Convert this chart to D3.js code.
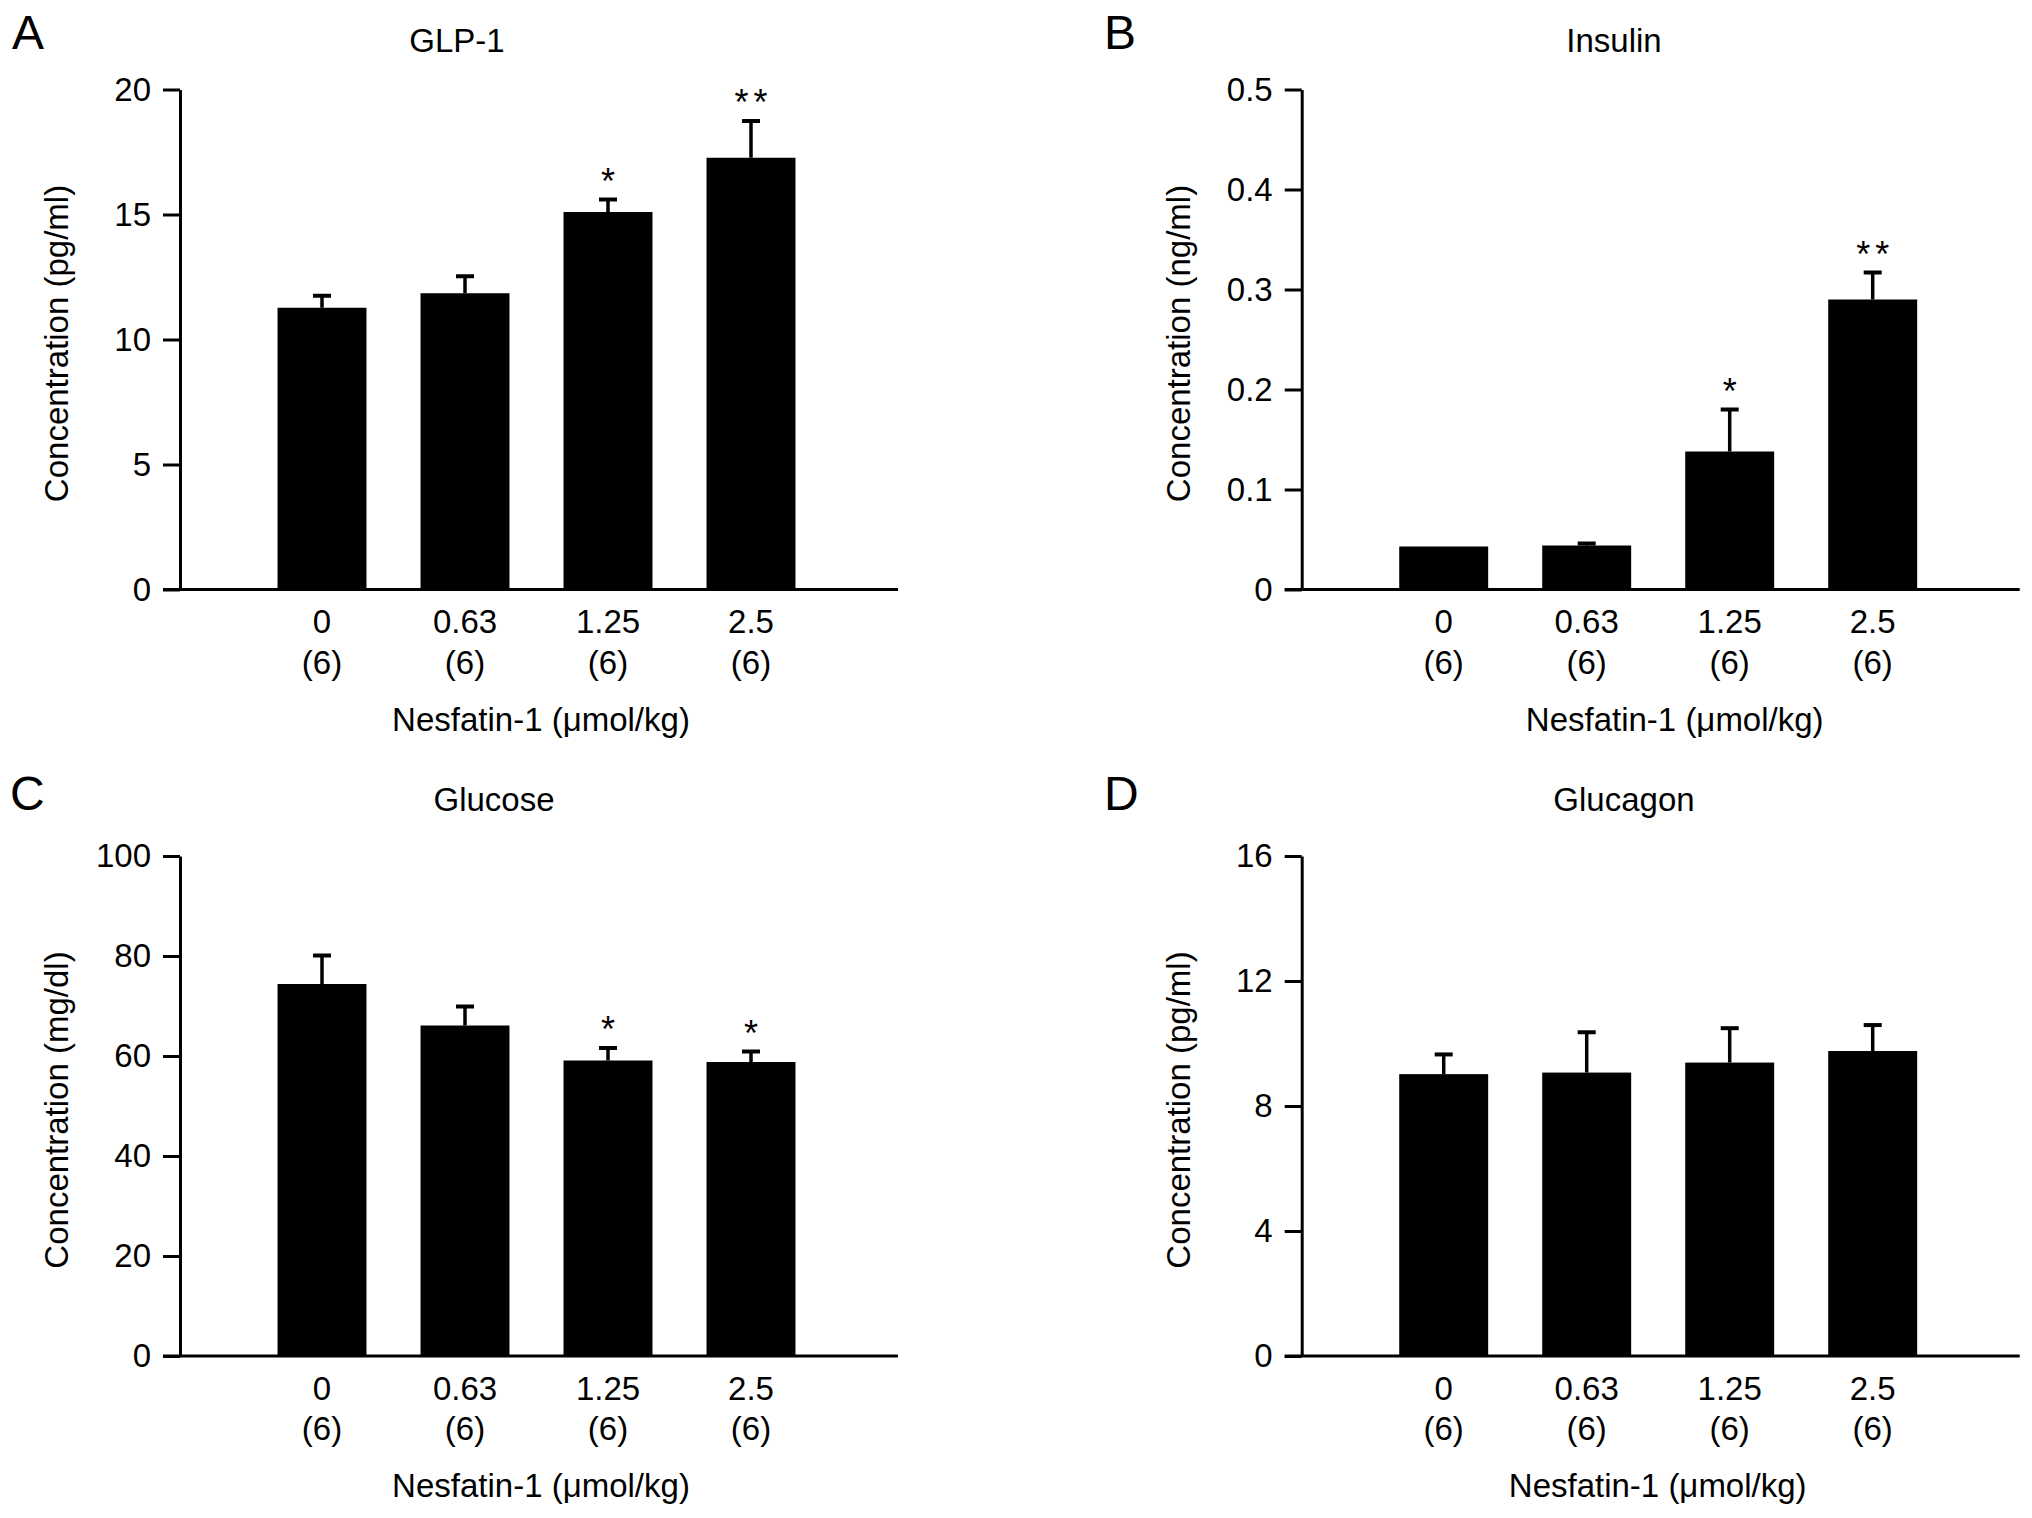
<!DOCTYPE html>
<html>
<head>
<meta charset="utf-8">
<script src="https://cdn.jsdelivr.net/npm/d3@7"></script>
<style>
  body { margin: 0; background: #fff; }
  svg text { font-family: "Liberation Sans", Arial, Helvetica, sans-serif; fill: #000; }
</style>
</head>
<body>
<svg id="chart" width="2032" height="1518"></svg>
<script>
// doses (umol/kg) and group sizes, shared by all four panels
var doses = ['0', '0.63', '1.25', '2.5'];
var groupN = ['(6)', '(6)', '(6)', '(6)'];

// A: GLP-1 (pg/ml)
var glp1Mean = [11.27, 11.85, 15.1, 17.27];
var glp1Sem = [0.48, 0.68, 0.5, 1.47];
var glp1Sig = ['', '', '*', '**'];
var glp1Ticks = [0, 5, 10, 15, 20];

// B: insulin (ng/ml)
var insulinMean = [0.043, 0.044, 0.138, 0.290];
var insulinSem = [0.0, 0.002, 0.042, 0.027];
var insulinSig = ['', '', '*', '**'];
var insulinTicks = [0, 0.1, 0.2, 0.3, 0.4, 0.5];

// C: glucose (mg/dl)
var glucoseMean = [74.4, 66.1, 59.1, 58.8];
var glucoseSem = [5.7, 3.8, 2.5, 2.1];
var glucoseSig = ['', '', '*', '*'];
var glucoseTicks = [0, 20, 40, 60, 80, 100];

// D: glucagon (pg/ml)
var glucagonMean = [9.02, 9.07, 9.39, 9.76];
var glucagonSem = [0.63, 1.29, 1.1, 0.83];
var glucagonSig = ['', '', '', ''];
var glucagonTicks = [0, 4, 8, 12, 16];

var panels = [
    {letter: 'A', title: 'GLP-1', yLabel: 'Concentration (pg/ml)', mean: glp1Mean, sem: glp1Sem, sig: glp1Sig, ticks: glp1Ticks,
     ox: 180, oy: 589.5, letterX: 12, letterY: 49, titleX: 457, titleY: 52, xTitleDx: 361},
    {letter: 'B', title: 'Insulin', yLabel: 'Concentration (ng/ml)', mean: insulinMean, sem: insulinSem, sig: insulinSig, ticks: insulinTicks,
     ox: 1301.7, oy: 589.5, letterX: 1104, letterY: 49, titleX: 1614, titleY: 52, xTitleDx: 373},
    {letter: 'C', title: 'Glucose', yLabel: 'Concentration (mg/dl)', mean: glucoseMean, sem: glucoseSem, sig: glucoseSig, ticks: glucoseTicks,
     ox: 180, oy: 1356, letterX: 10, letterY: 810, titleX: 494, titleY: 811, xTitleDx: 361},
    {letter: 'D', title: 'Glucagon', yLabel: 'Concentration (pg/ml)', mean: glucagonMean, sem: glucagonSem, sig: glucagonSig, ticks: glucagonTicks,
     ox: 1301.7, oy: 1356, letterX: 1104, letterY: 810, titleX: 1624, titleY: 811, xTitleDx: 356}
];

var plotH = 500, axisLen = 718, tickLen = 17, fontSize = 33;
var svg = d3.select('#chart');

panels.forEach(function (p) {
    svg.append('text')
        .attr('x', p.letterX).attr('y', p.letterY)
        .attr('font-size', 48)
        .text(p.letter);

    svg.append('text')
        .attr('x', p.titleX).attr('y', p.titleY)
        .attr('text-anchor', 'middle')
        .attr('font-size', fontSize)
        .text(p.title);

    // group everything of the plot in a <g> placed at the axes origin
    var g = svg.append('g')
        .attr('transform', 'translate(' + p.ox + ',' + (p.oy - plotH) + ')');

    var x = d3.scaleBand()
        .domain(doses)
        .range([70.5, 642.5])
        .paddingInner(0.378)
        .paddingOuter(0.189);

    var y = d3.scaleLinear()
        .domain([0, p.ticks[p.ticks.length - 1]])
        .range([plotH, 0]);

    var rows = doses.map(function (dose, i) {
        return {dose: dose, mean: p.mean[i], sem: p.sem[i], sig: p.sig[i]};
    });

    // bars
    g.selectAll('rect.bar')
        .data(rows)
        .enter().append('rect')
        .attr('class', 'bar')
        .attr('x', function (d) { return x(d.dose); })
        .attr('y', function (d) { return y(d.mean); })
        .attr('width', x.bandwidth())
        .attr('height', function (d) { return plotH - y(d.mean); })
        .attr('fill', '#000');

    // upper error whiskers with caps
    var err = g.selectAll('g.err')
        .data(rows)
        .enter().append('g')
        .attr('class', 'err')
        .attr('transform', function (d) { return 'translate(' + (x(d.dose) + x.bandwidth() / 2) + ',0)'; });

    var withSem = err.filter(function (d) { return d.sem > 0; });

    withSem.append('line')
        .attr('y1', function (d) { return y(d.mean); })
        .attr('y2', function (d) { return y(d.mean + d.sem); })
        .attr('stroke', '#000')
        .attr('stroke-width', 3.5);

    withSem.append('line')
        .attr('x1', -9).attr('x2', 9)
        .attr('y1', function (d) { return y(d.mean + d.sem); })
        .attr('y2', function (d) { return y(d.mean + d.sem); })
        .attr('stroke', '#000')
        .attr('stroke-width', 4);

    // significance stars
    err.each(function (d) {
        var stars = d.sig.split('');
        var top = y(d.mean + d.sem);
        d3.select(this).selectAll('text.star')
            .data(stars)
            .enter().append('text')
            .attr('class', 'star')
            .attr('x', function (s, k) { return (k - (stars.length - 1) / 2) * 19; })
            .attr('y', top - 6)
            .attr('text-anchor', 'middle')
            .attr('font-size', 36)
            .text(function (s) { return s; });
    });

    // y axis
    var yAxis = g.append('g')
        .call(d3.axisLeft(y)
            .tickValues(p.ticks)
            .tickSize(tickLen)
            .tickSizeOuter(0)
            .tickPadding(12)
            .tickFormat(function (d) { return String(d); }));
    yAxis.select('.domain').attr('stroke-width', 3);
    yAxis.selectAll('.tick line').attr('stroke-width', 3);
    yAxis.selectAll('.tick text')
        .attr('font-size', fontSize)
        .attr('font-family', null)
        .attr('fill', '#000');

    // x axis baseline
    g.append('line')
        .attr('x1', -tickLen).attr('x2', axisLen)
        .attr('y1', plotH).attr('y2', plotH)
        .attr('stroke', '#000')
        .attr('stroke-width', 3);

    // dose labels with group sizes underneath
    var xl = g.selectAll('g.xlab')
        .data(rows)
        .enter().append('g')
        .attr('class', 'xlab')
        .attr('transform', function (d) { return 'translate(' + (x(d.dose) + x.bandwidth() / 2) + ',' + plotH + ')'; });
    xl.append('text')
        .attr('y', 43.5)
        .attr('text-anchor', 'middle')
        .attr('font-size', fontSize)
        .text(function (d) { return d.dose; });
    xl.append('text')
        .attr('y', 84)
        .attr('text-anchor', 'middle')
        .attr('font-size', fontSize)
        .text(function (d, i) { return groupN[i]; });

    g.append('text')
        .attr('x', p.xTitleDx)
        .attr('y', plotH + 141)
        .attr('text-anchor', 'middle')
        .attr('font-size', fontSize)
        .text('Nesfatin-1 (\u03bcmol/kg)');

    g.append('text')
        .attr('transform', 'translate(-112,' + (plotH / 2 + 4) + ') rotate(-90)')
        .attr('text-anchor', 'middle')
        .attr('font-size', fontSize)
        .text(p.yLabel);
});
</script>
</body>
</html>
